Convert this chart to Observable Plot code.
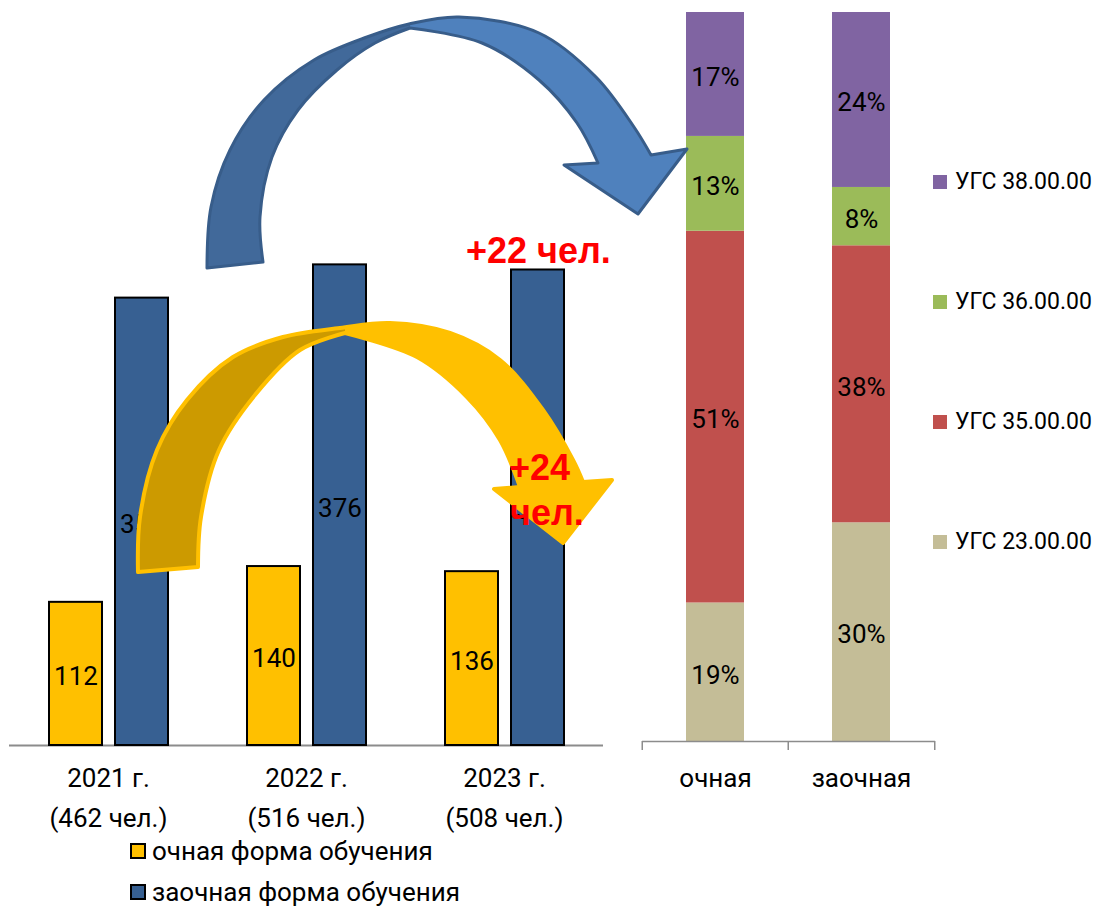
<!DOCTYPE html>
<html><head><meta charset="utf-8">
<script src="https://cdn.jsdelivr.net/npm/d3@7"></script>
<script src="https://cdn.jsdelivr.net/npm/@observablehq/plot@0.6"></script>
<style>
body{margin:0;background:#fff;font-family:Roboto,"Open Sans",sans-serif;}
#wrap{position:relative;width:1097px;height:906px;overflow:hidden;background:#fff;}
.abs{position:absolute;}
.leg{position:absolute;display:flex;align-items:center;height:26px;line-height:26px;color:#000;white-space:nowrap;font-family:Roboto,sans-serif;}
.sw{box-sizing:border-box;flex:none;}
</style></head><body><div id="wrap"></div>
<script>
// ---------- data ----------
const years = ["2021", "2022", "2023"];
const yearLabels = ["2021 г.", "2022 г.", "2023 г."];
const totalLabels = ["(462 чел.)", "(516 чел.)", "(508 чел.)"];
const forms = ["очная форма обучения", "заочная форма обучения"];
const fullTime = [112, 140, 136];
const partTime = [350, 376, 372];
const formColors = ["#FFC000", "#376092"];

const groups = ["очная", "заочная"];
const ugs = ["УГС 23.00.00", "УГС 35.00.00", "УГС 36.00.00", "УГС 38.00.00"];
const ugsColors = ["#C4BD97", "#C0504D", "#9BBB59", "#8064A2"];
const shareFullTime = [19, 51, 13, 17];
const sharePartTime = [30, 38, 8, 24];

const noteTop = "+22 чел.";
const noteMid = ["+24", "чел."];

// ---------- tables ----------
const counts = years.flatMap((y, i) => [
  {year: y, form: forms[0], v: fullTime[i]},
  {year: y, form: forms[1], v: partTime[i]}
]);
const shares = groups.flatMap((g, gi) =>
  ugs.map((u, ui) => ({group: g, ugs: u, v: (gi ? sharePartTime : shareFullTime)[ui]})));

const wrap = document.getElementById("wrap");

// ---------- left chart ----------
const left = Plot.plot({
  width: 611, height: 840,
  marginLeft: 8, marginRight: 8, marginTop: 10, marginBottom: 95,
  style: {fontFamily: "Roboto, sans-serif", fontSize: "26px", background: "transparent", overflow: "visible"},
  fx: {domain: years, padding: 0, axis: null},
  x: {domain: forms, paddingInner: 0.2, paddingOuter: 0.6, axis: null},
  y: {domain: [0, 575], axis: null},
  color: {domain: forms, range: formColors},
  marks: [
    Plot.ruleY([0], {stroke: "#8c8c8c", strokeWidth: 2}),
    Plot.barY(counts, {fx: "year", x: "form", y: "v", fill: "form", stroke: "#000", strokeWidth: 2}),
    Plot.text(counts, {fx: "year", x: "form", y: d => d.v / 2, dy: 3, text: d => String(d.v), fill: "#000", fontSize: 26}),
    Plot.text(years, {fx: d => d, text: (d, i) => yearLabels[i], frameAnchor: "bottom", dy: 41, fill: "#000", fontSize: 26}),
    Plot.text(years, {fx: d => d, text: (d, i) => totalLabels[i], frameAnchor: "bottom", dy: 81, fill: "#000", fontSize: 26})
  ]
});
left.classList.add("abs");
left.style.left = "0px"; left.style.top = "0px";
wrap.appendChild(left);

// ---------- right chart ----------
const right = Plot.plot({
  width: 497, height: 800,
  marginLeft: 42, marginRight: 162, marginTop: 12, marginBottom: 59,
  style: {fontFamily: "Roboto, sans-serif", fontSize: "26px", background: "transparent", overflow: "visible"},
  x: {domain: groups, paddingInner: 0.6, paddingOuter: 0.3, axis: null},
  y: {domain: [0, 100], axis: null},
  color: {domain: ugs, range: ugsColors},
  marks: [
    Plot.barY(shares, {x: "group", y: "v", fill: "ugs"}),
    Plot.text(shares, Plot.stackY({x: "group", y: "v", dy: 3, text: d => d.v + "%", fill: "#000", fontSize: 26})),
    Plot.ruleY([0], {stroke: "#8c8c8c", strokeWidth: 1.5}),
    Plot.ruleX(groups, {x: d => d, y1: 0, y2: 0, insetBottom: -9, dx: -73.25, stroke: "#8c8c8c", strokeWidth: 1.5}),
    Plot.ruleX(groups.slice(-1), {x: d => d, y1: 0, y2: 0, insetBottom: -9, dx: 73.25, stroke: "#8c8c8c", strokeWidth: 1.5}),
    Plot.text(groups, {x: d => d, text: d => d, frameAnchor: "bottom", dy: 45, fill: "#000", fontSize: 26})
  ]
});
right.classList.add("abs");
right.style.left = "600px"; right.style.top = "0px";
wrap.appendChild(right);

// ---------- decorative arrows + notes (overlay) ----------
const ns = "http://www.w3.org/2000/svg";
const ov = document.createElementNS(ns, "svg");
ov.setAttribute("width", 1097); ov.setAttribute("height", 906);
ov.setAttribute("class", "abs");
ov.style.left = "0px"; ov.style.top = "0px"; ov.style.pointerEvents = "none";
wrap.appendChild(ov);
const defs = document.createElementNS(ns, "defs");
ov.appendChild(defs);

const smooth = d3.line().curve(d3.curveCatmullRom);
function silhouette(outer, head, innerLight, innerDark) {
  let p = smooth(outer);
  head.forEach(q => { p += "L" + q[0] + "," + q[1]; });
  p += "L" + smooth(innerLight).slice(1);
  p += "L" + smooth(innerDark).slice(1);
  return p + "Z";
}
function el(tag, attrs, parent) {
  const e = document.createElementNS(ns, tag);
  for (const k in attrs) e.setAttribute(k, attrs[k]);
  (parent || ov).appendChild(e);
  return e;
}
function arrow(id, sil, darkRegion, light, dark, stroke, sw) {
  const cp = el("clipPath", {id}, defs);
  el("path", {d: sil}, cp);
  el("path", {d: sil, fill: light, stroke: "none"});
  el("path", {d: darkRegion, fill: dark, stroke: "none", "clip-path": `url(#${id})`});
  el("path", {d: sil, fill: "none", stroke, "stroke-width": sw, "stroke-linejoin": "round"});
}
// blue arrow
const bDark = [[410,28],[375,43],[337,70],[298,110],[272,157],[260,217],[263,262]];
arrow("clipBlue",
  silhouette(
    [[207,268],[211,207],[230,150],[264,100],[314,60],[367,37],[409,24],[459,17],[539,33],[596,77],[634,127],[651,155]],
    [[687,149],[638,214],[564,165]],
    [[598,163],[577,123],[539,80],[482,43],[410,28]],
    bDark),
  smooth(bDark) + "L240,290L150,290L150,0L410,0Z",
  "#4F81BD", "#41699A", "#385D8A", 3);
// yellow arrow
const yDark = [[345,333],[300,350],[255,395],[219,450],[201,517],[198,567]];
arrow("clipYellow",
  silhouette(
    [[138,572],[140,517],[157,450],[187,400],[233,357],[283,337],[340,328],[390,323],[450,333],[500,360],[543,410],[573,460],[583,482]],
    [[612,480],[563,543],[494,489]],
    [[520,487],[500,440],[467,397],[417,357],[345,333]],
    yDark),
  smooth(yDark) + "L180,600L100,600L100,300L345,300Z",
  "#FFC000", "#CC9A00", "#FFC000", 4);

function addText(t, x, y) {
  el("text", {x, y, fill: "#FF0000", "font-family": "'Liberation Sans', Arial, sans-serif",
    "font-weight": "bold", "font-size": 36}).textContent = t;
}
addText(noteTop, 466, 263);
addText(noteMid[0], 509, 480);
addText(noteMid[1], 510, 525);

// ---------- legends ----------
function legendItem(label, color, x, cy, size, fontSize, border) {
  const d = document.createElement("div");
  d.className = "leg";
  d.style.left = x + "px"; d.style.top = (cy - 13) + "px"; d.style.fontSize = fontSize + "px";
  const s = document.createElement("span");
  s.className = "sw";
  s.style.width = size + "px"; s.style.height = size + "px"; s.style.background = color;
  s.style.marginRight = (border ? 6 : 8) + "px";
  if (border) s.style.border = "2px solid #000";
  d.appendChild(s);
  const t = document.createElement("span"); t.textContent = label;
  d.appendChild(t);
  wrap.appendChild(d);
}
forms.forEach((f, i) => legendItem(f, formColors[i], 130, 851 + 41 * i, 16, 26, true));
ugs.slice().reverse().forEach((u, i) => legendItem(u, ugsColors[ugs.length - 1 - i], 933, 182 + 120 * i, 14, 23, false));
</script>
</body></html>
